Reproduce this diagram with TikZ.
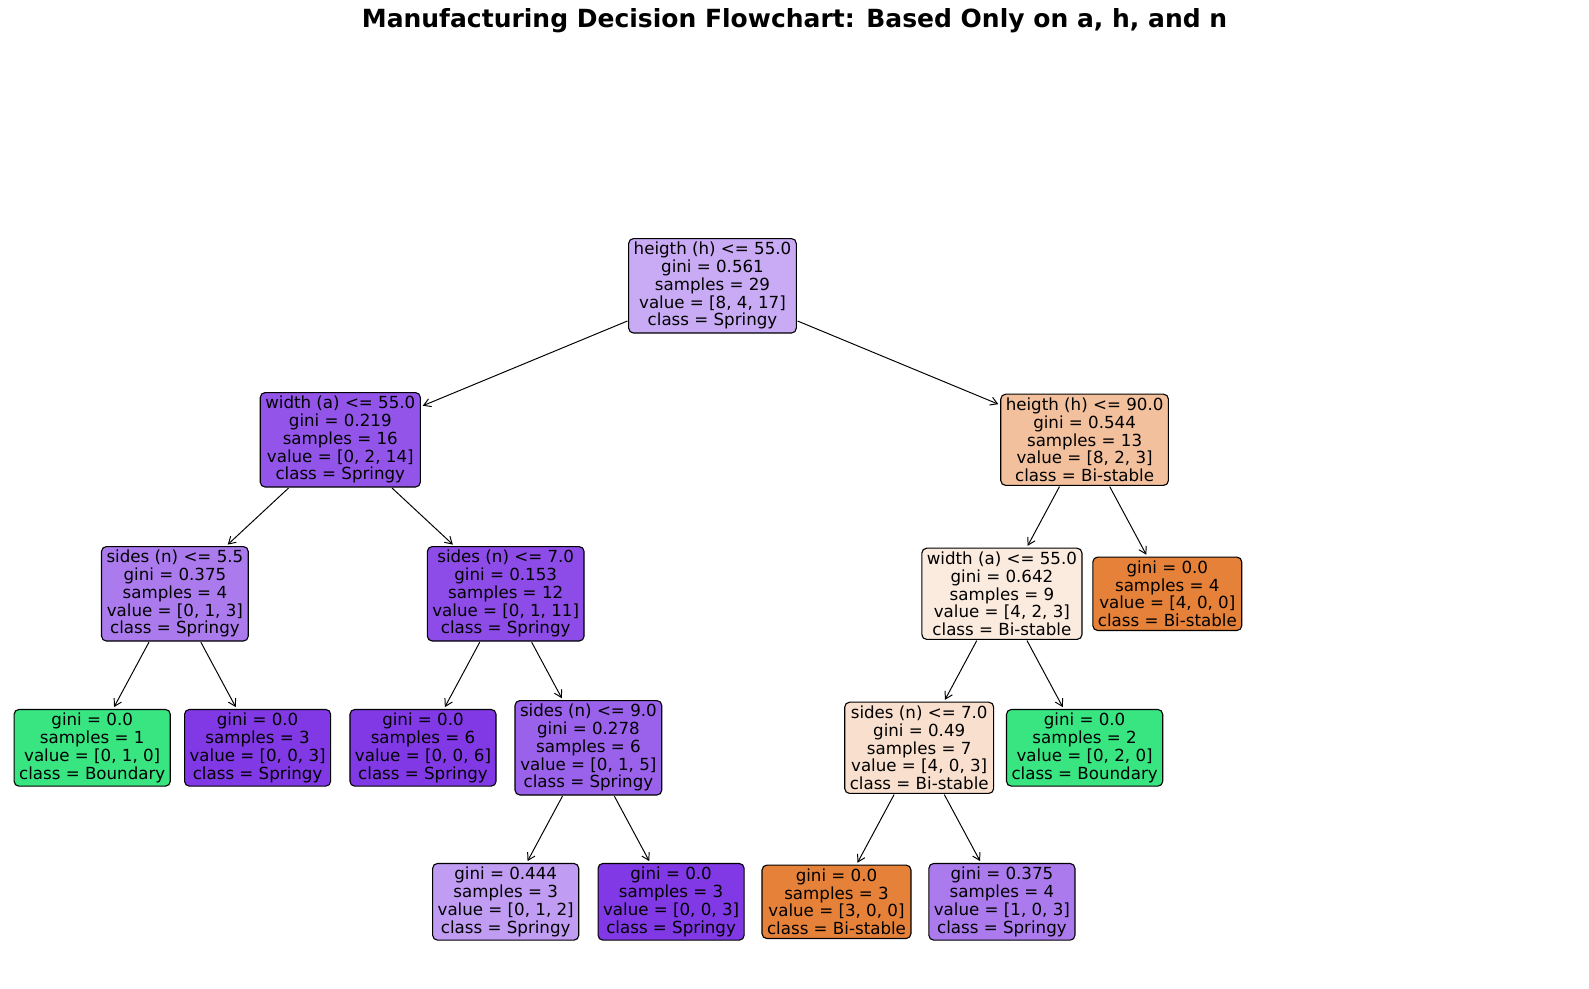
\documentclass[tikz,border=0pt]{standalone}
\usepackage{fontspec}
\setmainfont{DejaVu Sans}
\usetikzlibrary{arrows.meta}

\definecolor{cRoot}{RGB}{201,170,244}
\definecolor{cL}{RGB}{147,85,233}
\definecolor{cR}{RGB}{242,192,156}
\definecolor{cLL}{RGB}{171,123,238}
\definecolor{cLR}{RGB}{141,75,231}
\definecolor{cRL}{RGB}{251,234,222}
\definecolor{cRLL}{RGB}{249,224,206}
\definecolor{cLRR}{RGB}{154,97,234}
\definecolor{cLRRL}{RGB}{192,156,242}
\definecolor{pureOrange}{RGB}{229,129,57}
\definecolor{pureGreen}{RGB}{57,229,129}
\definecolor{purePurple}{RGB}{129,57,229}

\tikzset{
  treenode/.style={draw=black, line width=0.8pt, rounded corners=3.5pt, align=center,
    inner xsep=3.6pt, inner ysep=2.6pt, font=\fontsize{12}{12.8}\selectfont},
  edge/.style={-{Straight Barb[length=5pt,width=6pt]}, line width=0.7pt, shorten >=1.5pt, shorten <=0.5pt}
}

\begin{document}
\begin{tikzpicture}[x=0.72pt, y=-0.72pt]
\useasboundingbox (0,0) rectangle (1589,989);
\node[font=\fontsize{18}{21}\selectfont\bfseries] (title) at (794.5,21) {Manufacturing Decision Flowchart: Based Only on a, h, and n};

% level 0 and 1
\node[treenode, fill=cRoot] (root) at (712.5,285.8) {heigth (h) <= 55.0\\gini = 0.561\\samples = 29\\value = [8, 4, 17]\\class = Springy};
\node[treenode, fill=cL] (wa) at (340.3,439.8) {width (a) <= 55.0\\gini = 0.219\\samples = 16\\value = [0, 2, 14]\\class = Springy};
\node[treenode, fill=cR] (hb) at (1084.6,439.8) {heigth (h) <= 90.0\\gini = 0.544\\samples = 13\\value = [8, 2, 3]\\class = Bi-stable};

% level 2
\node[treenode, fill=cLL] (sa) at (174.9,593.8) {sides (n) <= 5.5\\gini = 0.375\\samples = 4\\value = [0, 1, 3]\\class = Springy};
\node[treenode, fill=cLR] (sb) at (505.7,593.8) {sides (n) <= 7.0\\gini = 0.153\\samples = 12\\value = [0, 1, 11]\\class = Springy};
\node[treenode, fill=cRL] (wb) at (1001.9,593.8) {width (a) <= 55.0\\gini = 0.642\\samples = 9\\value = [4, 2, 3]\\class = Bi-stable};
\node[treenode, fill=pureOrange] (leafRR) at (1167.3,593.8) {gini = 0.0\\samples = 4\\value = [4, 0, 0]\\class = Bi-stable};

% level 3
\node[treenode, fill=pureGreen] (leafLLL) at (92.2,747.8) {gini = 0.0\\samples = 1\\value = [0, 1, 0]\\class = Boundary};
\node[treenode, fill=purePurple] (leafLLR) at (257.6,747.8) {gini = 0.0\\samples = 3\\value = [0, 0, 3]\\class = Springy};
\node[treenode, fill=purePurple] (leafLRL) at (423,747.8) {gini = 0.0\\samples = 6\\value = [0, 0, 6]\\class = Springy};
\node[treenode, fill=cLRR] (sc) at (588.4,747.8) {sides (n) <= 9.0\\gini = 0.278\\samples = 6\\value = [0, 1, 5]\\class = Springy};
\node[treenode, fill=cRLL] (sd) at (919.2,747.8) {sides (n) <= 7.0\\gini = 0.49\\samples = 7\\value = [4, 0, 3]\\class = Bi-stable};
\node[treenode, fill=pureGreen] (leafRLR) at (1084.6,747.8) {gini = 0.0\\samples = 2\\value = [0, 2, 0]\\class = Boundary};

% level 4
\node[treenode, fill=cLRRL] (leafLRRL) at (505.7,901.8) {gini = 0.444\\samples = 3\\value = [0, 1, 2]\\class = Springy};
\node[treenode, fill=purePurple] (leafLRRR) at (671.1,901.8) {gini = 0.0\\samples = 3\\value = [0, 0, 3]\\class = Springy};
\node[treenode, fill=pureOrange] (leafRLLL) at (836.5,901.8) {gini = 0.0\\samples = 3\\value = [3, 0, 0]\\class = Bi-stable};
\node[treenode, fill=cLL] (leafRLLR) at (1001.9,901.8) {gini = 0.375\\samples = 4\\value = [1, 0, 3]\\class = Springy};

% edges
\foreach \p/\c in {root/wa, root/hb, wa/sa, wa/sb, hb/wb, hb/leafRR,
    sa/leafLLL, sa/leafLLR, sb/leafLRL, sb/sc, wb/sd, wb/leafRLR,
    sc/leafLRRL, sc/leafLRRR, sd/leafRLLL, sd/leafRLLR}
  \draw[edge] (\p) -- (\c);
\end{tikzpicture}
\end{document}
